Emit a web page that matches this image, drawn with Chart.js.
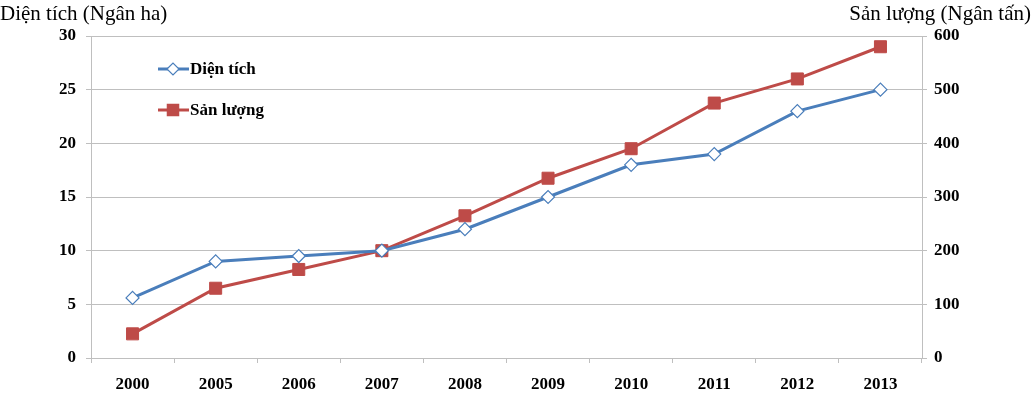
<!DOCTYPE html>
<html><head><meta charset="utf-8">
<script src="https://cdn.jsdelivr.net/npm/chart.js@4/dist/chart.umd.min.js"></script>
<style>html,body{margin:0;padding:0;background:#fff;}#wrap{width:1035px;height:398px;}</style>
</head><body><div id="wrap"><canvas id="c" width="1035" height="398"></canvas></div>
<script>
const categories = ['2000','2005','2006','2007','2008','2009','2010','2011','2012','2013'];
const dienTich = [5.6, 9.0, 9.5, 10.0, 12.0, 15.0, 18.0, 19.0, 23.0, 25.0];
const sanLuong = [45, 130, 165, 200, 265, 335, 390, 475, 520, 580];
const leftTicks = [0, 5, 10, 15, 20, 25, 30];
const rightTicks = [0, 100, 200, 300, 400, 500, 600];
const leftTitle = 'Diện tích (Ngân ha)';
const rightTitle = 'Sản lượng (Ngân tấn)';
const seriesNames = ['Diện tích', 'Sản lượng'];

const BLUE = '#4a7ebb', RED = '#be4b48', GRID = '#bfbfbf';
const tickFont = {family: 'Liberation Serif', size: 17, weight: 'bold'};

const overlay = {
  id: 'overlay',
  afterDraw(chart) {
    const ctx = chart.ctx;
    ctx.save();
    ctx.fillStyle = '#000';
    ctx.font = '21px "Liberation Serif"';
    ctx.textBaseline = 'middle';
    ctx.textAlign = 'left';
    ctx.fillText(leftTitle, 0, 14);
    ctx.textAlign = 'right';
    ctx.fillText(rightTitle, 1031, 14);
    // legend
    const items = [
      {name: seriesNames[0], color: BLUE, style: 'rectRot', r: 6, fill: '#fff', y: 69},
      {name: seriesNames[1], color: RED, style: 'rect', r: 8, fill: RED, y: 110}
    ];
    items.forEach(it => {
      ctx.strokeStyle = it.color; ctx.lineWidth = 3;
      ctx.beginPath(); ctx.moveTo(158, it.y); ctx.lineTo(189, it.y); ctx.stroke();
      ctx.fillStyle = it.fill; ctx.strokeStyle = it.color; ctx.lineWidth = 1.2;
      Chart.helpers.drawPoint(ctx, {pointStyle: it.style, radius: it.r, borderWidth: 1.2}, 173, it.y);
      ctx.fillStyle = '#000';
      ctx.font = 'bold 17px "Liberation Serif"';
      ctx.textAlign = 'left';
      ctx.fillText(it.name, 190, it.y + 1);
    });
    ctx.restore();
  }
};

new Chart(document.getElementById('c'), {
  type: 'line',
  data: {
    labels: categories,
    datasets: [
      {label: seriesNames[0], data: dienTich, yAxisID: 'y', borderColor: BLUE, borderWidth: 3,
       pointStyle: 'rectRot', pointRadius: 6.5, pointBackgroundColor: '#fff', pointBorderColor: BLUE, pointBorderWidth: 1.2, tension: 0},
      {label: seriesNames[1], data: sanLuong, yAxisID: 'y1', borderColor: RED, borderWidth: 3,
       pointStyle: 'rect', pointRadius: 8.5, pointBackgroundColor: RED, pointBorderColor: RED, pointBorderWidth: 1, tension: 0}
    ]
  },
  options: {
    responsive: false, animation: false, devicePixelRatio: 1,
    layout: {padding: {top: 36, right: 0, left: 0, bottom: 0}},
    plugins: {legend: {display: false}, tooltip: {enabled: false}},
    scales: {
      x: {
        offset: true,
        grid: {display: true, drawOnChartArea: false, drawTicks: true, tickLength: 5, color: GRID, offset: true},
        border: {color: GRID, width: 1},
        ticks: {color: '#000', font: tickFont, padding: 11, maxRotation: 0},
        afterFit(s) { s.height = 40; }
      },
      y: {
        position: 'left', min: 0, max: 30,
        afterBuildTicks(s) { s.ticks = leftTicks.map(v => ({value: v})); },
        grid: {color: GRID, tickLength: 5, drawTicks: true},
        border: {color: GRID, width: 1},
        ticks: {color: '#000', font: tickFont, padding: 10},
        afterFit(s) { s.width = 91; }
      },
      y1: {
        position: 'right', min: 0, max: 600,
        afterBuildTicks(s) { s.ticks = rightTicks.map(v => ({value: v})); },
        grid: {drawOnChartArea: false, color: GRID, tickLength: 5, drawTicks: true},
        border: {color: GRID, width: 1},
        ticks: {color: '#000', font: tickFont, padding: 7},
        afterFit(s) { s.width = 113; }
      }
    }
  },
  plugins: [overlay]
});
</script>
</body></html>
